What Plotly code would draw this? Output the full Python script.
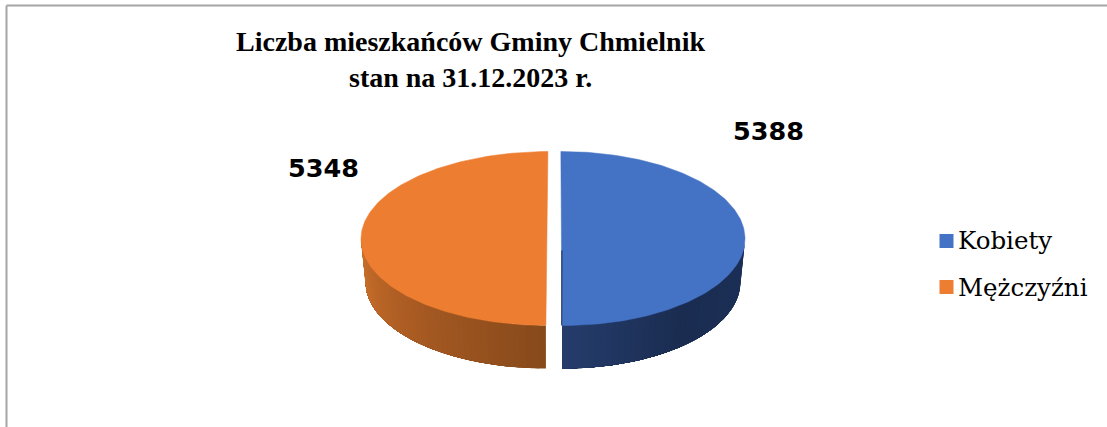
import math
import plotly.graph_objects as go

# ---- data ----
categories = ["Kobiety", "Mężczyźni"]
values = [5388, 5348]
value_labels = ["5388", "5348"]
title_lines = ["Liczba mieszkańców Gminy Chmielnik", "stan na 31.12.2023 r."]

# ---- styling ----
top_colors = ["#4472C4", "#ED7D31"]
side_stops = [
    [(0.0, (0x1C, 0x30, 0x58)), (0.55, (0x1A, 0x2C, 0x50)), (1.0, (0x25, 0x3C, 0x6B))],
    [(0.0, (0x87, 0x4A, 0x1B)), (0.5, (0xA8, 0x5A, 0x22)), (1.0, (0xCC, 0x71, 0x2C))],
]
W, H = 1107, 427
CY, RY, DEPTH = 238.5, 87.0, 43.0
CX = [562.5, 548.0]
RX = [182.5, 187.0]
BOTTOM_SHRINK = 4.5
SHEAR = [0.6, -1.0]     # perspective drift of each slice, px from back to front
START_DEG = -0.33
N_ARC = 180
N_SIDE = 44


def mix(stops, t):
    for (t0, c0), (t1, c1) in zip(stops, stops[1:]):
        if t <= t1:
            f = (t - t0) / (t1 - t0)
            return "rgb(%d,%d,%d)" % tuple(round(a + (b - a) * f) for a, b in zip(c0, c1))
    return "rgb(%d,%d,%d)" % stops[-1][1]


def point(i, deg, y_off=0.0, shrink=0.0):
    a = math.radians(deg)
    sn, cs = math.sin(a), math.cos(a)
    return (CX[i] + SHEAR[i] * (-cs) + (RX[i] - shrink) * sn, CY + y_off - RY * cs)


total = sum(values)
spans, ang = [], START_DEG
for v in values:
    d = 360.0 * v / total
    spans.append((ang, ang + d))
    ang += d

fig = go.Figure()

# side walls (only the part facing the viewer: 90..270 degrees).
# Each band runs to the end of the wall and the next one paints over it, so no seams show.
for i, (a0, a1) in enumerate(spans):
    lo, hi = max(a0, 90.0), min(a1, 270.0)
    if hi <= lo:
        continue
    for k in range(N_SIDE):
        s0 = lo + (hi - lo) * k / N_SIDE
        n = 60
        arc = [s0 + (hi - s0) * j / n for j in range(n + 1)]
        up = [point(i, d) for d in arc]
        dn = [point(i, d, DEPTH, BOTTOM_SHRINK) for d in reversed(arc)]
        pts = up + dn
        col = mix(side_stops[i], k / (N_SIDE - 1))
        fig.add_trace(go.Scatter(
            x=[p[0] for p in pts] + [pts[0][0]],
            y=[p[1] for p in pts] + [pts[0][1]],
            mode="lines", fill="toself", fillcolor=col,
            line=dict(width=0),
            hoverinfo="skip", showlegend=False))

# top faces
for i, (a0, a1) in enumerate(spans):
    arc = [a0 + (a1 - a0) * j / N_ARC for j in range(N_ARC + 1)]
    pts = [point(i, d) for d in arc]
    xs = [p[0] for p in pts] + [pts[0][0]]
    ys = [p[1] for p in pts] + [pts[0][1]]
    fig.add_trace(go.Scatter(
        x=xs, y=ys, mode="lines", fill="toself", fillcolor=top_colors[i],
        line=dict(color=top_colors[i], width=0.5),
        name=categories[i], text=str(values[i]), hoverinfo="name+text", showlegend=False))

# sliver of the blue slice's cut face, seen along its straight edge
edge_end = point(0, spans[0][1])
edge_mid = point(0, spans[0][1] - 180.0 + 90.0 - 90.0)
fig.add_trace(go.Scatter(
    x=[(edge_end[0] + edge_mid[0]) / 2 - 0.6, edge_end[0] - 0.3],
    y=[(edge_end[1] + edge_mid[1]) / 2 + 12, edge_end[1]],
    mode="lines", line=dict(color="#1A2C50", width=1), hoverinfo="skip", showlegend=False))

# frame
grey = "#A6A6A6"
shapes = [
    dict(type="line", xref="x", yref="y", x0=6.5, x1=W, y0=5.5, y1=5.5, line=dict(color=grey, width=2)),
    dict(type="line", xref="x", yref="y", x0=6.5, x1=6.5, y0=5.5, y1=H, line=dict(color=grey, width=2)),
]

# key
key_x = 946.5
key_y = [241, 287]
for i, y in enumerate(key_y):
    shapes.append(dict(type="rect", xref="x", yref="y", x0=key_x - 7, x1=key_x + 7,
                       y0=y - 7, y1=y + 7, fillcolor=top_colors[i], line=dict(width=0)))

ann = []
for line, y in zip(title_lines, [41, 77]):
    ann.append(dict(x=470, y=y, xref="x", yref="y", text="<b>%s</b>" % line, showarrow=False,
                    font=dict(family="Liberation Serif", size=28, color="#000000")))
for txt, x, y in zip(value_labels, [768, 323], [131, 168]):
    ann.append(dict(x=x, y=y, xref="x", yref="y", text="<b>%s</b>" % txt, showarrow=False,
                    font=dict(family="DejaVu Sans", size=25.5, color="#000000")))
for cat, y in zip(categories, [240, 287]):
    ann.append(dict(x=956, y=y, xref="x", yref="y", text=cat, showarrow=False, xanchor="left",
                    font=dict(family="DejaVu Serif", size=24.5, color="#000000")))

fig.update_layout(
    width=W, height=H, margin=dict(l=0, r=0, t=0, b=0),
    paper_bgcolor="white", plot_bgcolor="white", showlegend=False,
    xaxis=dict(range=[0, W], visible=False, fixedrange=True),
    yaxis=dict(range=[H, 0], visible=False, fixedrange=True),
    shapes=shapes, annotations=ann,
)
fig.write_html("out.html", config=dict(displayModeBar=False),
               post_script="document.body.style.margin='0';document.body.style.overflow='hidden';")
